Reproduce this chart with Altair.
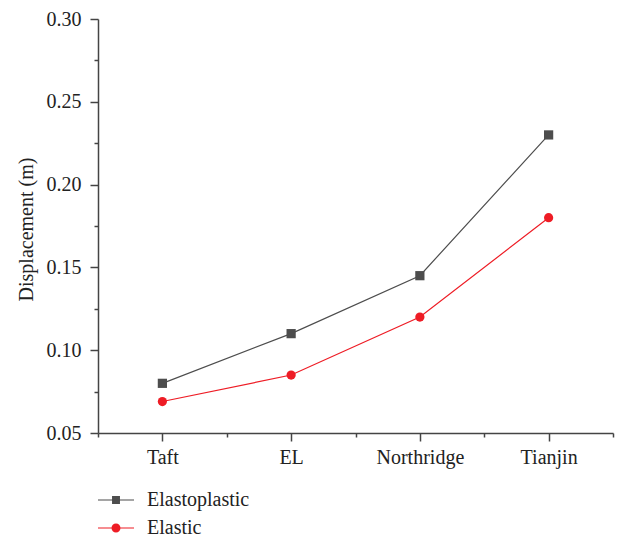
import json
import altair as alt
import pandas as pd

# ---- data ----
categories = ["Taft", "EL", "Northridge", "Tianjin"]
elastoplastic = [0.080, 0.110, 0.145, 0.230]
elastic = [0.069, 0.085, 0.120, 0.180]
series_names = ["Elastoplastic", "Elastic"]
series_colors = ["#4d4d4d", "#ee1c25"]
y_ticks = [0.05, 0.075, 0.10, 0.125, 0.15, 0.175, 0.20, 0.225, 0.25, 0.275, 0.30]

rows = []
for name, vals in zip(series_names, [elastoplastic, elastic]):
    for i, (c, v) in enumerate(zip(categories, vals)):
        rows.append({"idx": i, "category": c, "series": name, "value": v})
df = pd.DataFrame(rows)

x_ticks = [i * 0.5 - 0.5 for i in range(2 * len(categories) + 1)]

FONT = "Liberation Serif"
AX = "#444444"

x_axis = alt.Axis(
    values=x_ticks,
    labelExpr=f"datum.value % 1 == 0 ? {json.dumps(categories)}[datum.value] : ''",
    tickSize={"condition": {"test": "datum.value % 1 == 0", "value": 8}, "value": 4},
    title=None, grid=False, labelFont=FONT, labelFontSize=20, labelColor="#222222",
    domainColor=AX, tickColor=AX, domainWidth=1.5, tickWidth=1.5,
    labelPadding=6, labelOverlap=False, labelAngle=0,
)
y_axis = alt.Axis(
    values=y_ticks,
    labelExpr="round(datum.value*1000) % 50 == 0 ? format(datum.value, '.2f') : ''",
    tickSize={"condition": {"test": "round(datum.value*1000) % 50 == 0", "value": 8}, "value": 4},
    title="Displacement (m)", titleFont=FONT, titleFontSize=20, titleFontWeight="normal",
    titleColor="#222222", titleX=-66, titleY=210, titleAngle=-90, titleAlign="center",
    titleBaseline="alphabetic",
    grid=False, labelFont=FONT, labelFontSize=20, labelColor="#222222",
    domainColor=AX, tickColor=AX, domainWidth=1.5, tickWidth=1.5,
    labelPadding=9, labelOverlap=False,
)

x_enc = alt.X("idx:Q", scale=alt.Scale(domain=[-0.5, len(categories) - 0.5], nice=False, zero=False), axis=x_axis)
y_enc = alt.Y("value:Q", scale=alt.Scale(domain=[0.05, 0.30], nice=False, zero=False), axis=y_axis)
# colour scale for the marks (domain listed in reverse so its disabled legend is not merged with the real one)
color_enc = alt.Color("series:N", scale=alt.Scale(domain=series_names[::-1], range=series_colors[::-1]), legend=None)

base = alt.Chart(df)

lines = base.mark_line(strokeWidth=1.2).encode(x=x_enc, y=y_enc, color=color_enc, detail="series:N")
squares = base.transform_filter(alt.datum.series == series_names[0]).mark_square(size=85, opacity=1).encode(
    x=x_enc, y=y_enc, color=color_enc)
circles = base.transform_filter(alt.datum.series == series_names[1]).mark_circle(size=85, opacity=1).encode(
    x=x_enc, y=y_enc, color=color_enc)

# legend glyphs: short line with marker (filled shapes only)
bar = "M-2,-0.06H2V0.06H-2Z"
sq_path = bar + "M-0.44,-0.44H0.44V0.44H-0.44Z"
ci_path = bar + "M0.5,0A0.5,0.5,0,1,1,-0.5,0A0.5,0.5,0,1,1,0.5,0Z"

leg = alt.Legend(
    title=None, orient="none", legendX=8, legendY=471, direction="vertical",
    labelFont=FONT, labelFontSize=20, labelColor="#222222", labelOffset=21,
    symbolSize=324, symbolStrokeWidth=0, symbolOpacity=1, rowPadding=8, padding=0,
)
legend_layer = base.mark_point(filled=True).encode(
    x=x_enc, y=y_enc,
    shape=alt.Shape("series:N", scale=alt.Scale(domain=series_names, range=[sq_path, ci_path]), legend=leg),
    fill=alt.Fill("series:N", scale=alt.Scale(domain=series_names, range=series_colors), legend=leg),
    opacity=alt.value(0),
)

chart = alt.layer(legend_layer, lines, squares, circles).properties(
    width=515, height=414,
    autosize=alt.AutoSizeParams(type="none"),
    padding={"left": 98, "top": 19, "right": 9, "bottom": 108},
).configure_view(stroke="transparent")

chart.save("out.html", embed_options={"renderer": "svg", "actions": False})
